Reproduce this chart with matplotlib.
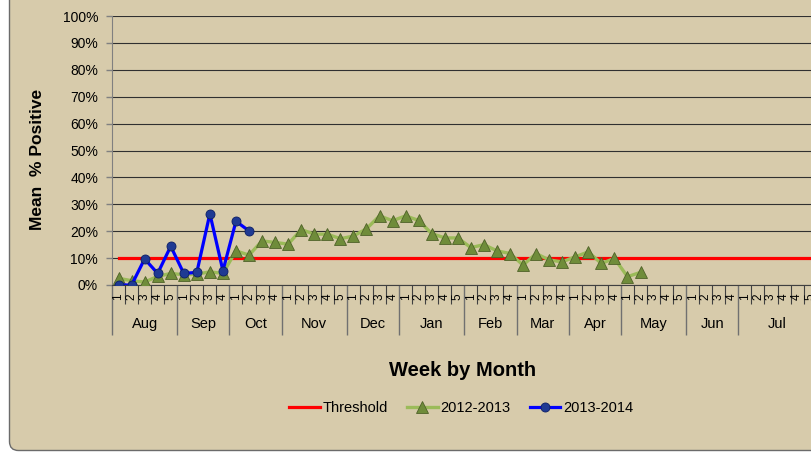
import matplotlib
matplotlib.use('Agg')
import matplotlib.pyplot as plt
import matplotlib.transforms as mtransforms
from matplotlib.patches import FancyBboxPatch
from matplotlib.lines import Line2D
from matplotlib.ticker import FuncFormatter
import numpy as np

plt.rcParams['font.family'] = ['Liberation Sans', 'DejaVu Sans']

# months and the week labels shown under each one
months = ['Aug', 'Sep', 'Oct', 'Nov', 'Dec', 'Jan', 'Feb', 'Mar', 'Apr', 'May', 'Jun', 'Jul']
month_weeks = [
    ['1', '2', '3', '4', '5'],
    ['1', '2', '3', '4'],
    ['1', '2', '3', '4'],
    ['1', '2', '3', '4', '5'],
    ['1', '2', '3', '4'],
    ['1', '2', '3', '4', '5'],
    ['1', '2', '3', '4'],
    ['1', '2', '3', '4'],
    ['1', '2', '3', '4'],
    ['1', '2', '3', '4', '5'],
    ['1', '2', '3', '4'],
    ['1', '2', '3', '4', '4', '5'],
]

# mean % positive per week
threshold = 10
season_1213 = [2.5, 1.6, 1.1, 3.2, 4.3,
               3.8, 4.0, 4.9, 4.3,
               12.7, 11.1, 16.4, 15.8,
               15.2, 20.6, 18.9, 18.9, 17.2,
               18.2, 20.9, 25.7, 23.9,
               25.7, 24.0, 19.1, 17.5, 17.5,
               13.9, 15.0, 12.7, 11.7,
               7.4, 11.7, 9.3, 8.6,
               10.5, 12.3, 8.0, 9.9,
               3.1, 4.7]
season_1314 = [0, 0, 9.7, 4.3, 14.4,
               4.3, 4.7, 26.5, 5.3,
               23.7, 20.1]

tan = '#D7CBAB'
dark = '#404040'
n_weeks = sum(len(w) for w in month_weeks)

fig = plt.figure(figsize=(8.12, 4.53), dpi=100)
fig.patch.set_facecolor('white')

# chart area with rounded corner (pixel coords)
bg = FancyBboxPatch((9.5, 2.5), 840, 480, boxstyle='round,pad=0,rounding_size=9',
                    transform=mtransforms.IdentityTransform(),
                    facecolor=tan, edgecolor='#6B6B6B', linewidth=1.0, zorder=-10)
fig.patches.append(bg)

ax = fig.add_axes([112/812, 168/453, n_weeks*13.05/812, 269/453])
ax.set_facecolor('none')

x_all = np.arange(n_weeks)
ax.plot(x_all, [threshold]*n_weeks, color='#FF0000', lw=2.3, zorder=3)
ax.plot(np.arange(len(season_1213)), season_1213, color='#9BBB59', lw=2.4,
        marker='^', ms=9, mfc='#6F8C3A', mec='#4F6228', mew=0.6, zorder=4)
ax.plot(np.arange(len(season_1314)), season_1314, color='#0000FF', lw=2.3,
        marker='o', ms=6.5, mfc='#1F3A93', mec='#0B1E66', mew=0.6, zorder=5)

ax.set_xlim(-0.5, n_weeks - 0.5)
ax.set_ylim(0, 100)
ax.set_yticks(np.arange(0, 101, 10))
ax.yaxis.set_major_formatter(FuncFormatter(lambda v, p: '%d%%' % v))
ax.tick_params(axis='y', direction='out', length=4, width=1, color='#808080',
               labelsize=10, pad=6)
ax.yaxis.grid(True, color='#303030', lw=0.8)
ax.set_axisbelow(True)

for s in ['top', 'right']:
    ax.spines[s].set_visible(False)
ax.spines['left'].set_color('#808080')
ax.spines['bottom'].set_color(dark)

# category axis: week boundaries as minor ticks, month boundaries as long major ticks
bounds = np.arange(n_weeks + 1) - 0.5
month_starts = np.cumsum([0] + [len(w) for w in month_weeks]) - 0.5
ax.set_xticks(month_starts)
ax.set_xticks(bounds, minor=True)
ax.set_xticklabels([])
ax.tick_params(axis='x', which='major', direction='out', length=36, width=1, color='#707070')
ax.tick_params(axis='x', which='minor', direction='out', length=14, width=0.8, color=dark)

trans = mtransforms.blended_transform_factory(ax.transData, ax.transAxes)
i = 0
for m, weeks in zip(months, month_weeks):
    for w in weeks:
        ax.text(i, -0.045, w, transform=trans, rotation=90, ha='center', va='center',
                fontsize=8.5, clip_on=False)
        i += 1
    center = i - len(weeks) / 2 - 0.5
    ax.text(center, -0.146, m, transform=trans, ha='center', va='center', fontsize=10.5)

ax.set_ylabel('Mean  % Positive', fontsize=12.5, fontweight='bold')
ax.yaxis.set_label_coords(-0.095, 0.465)
fig.text(463/812, 1 - 370/453, 'Week by Month', ha='center', va='center',
         fontsize=14.5, fontweight='bold')

handles = [
    Line2D([], [], color='#FF0000', lw=2.3),
    Line2D([], [], color='#9BBB59', lw=2.4, marker='^', ms=9, mfc='#6F8C3A', mec='#4F6228', mew=0.6),
    Line2D([], [], color='#0000FF', lw=2.3, marker='o', ms=6.5, mfc='#1F3A93', mec='#0B1E66', mew=0.6),
]
fig.legend(handles, ['Threshold', '2012-2013', '2013-2014'], loc='center',
           bbox_to_anchor=(0.568, 45/453), ncol=3, frameon=False, fontsize=10.5,
           handlelength=2.1, handletextpad=0.2, columnspacing=1.3)

fig.savefig('out.png', dpi=100, facecolor=fig.get_facecolor())
